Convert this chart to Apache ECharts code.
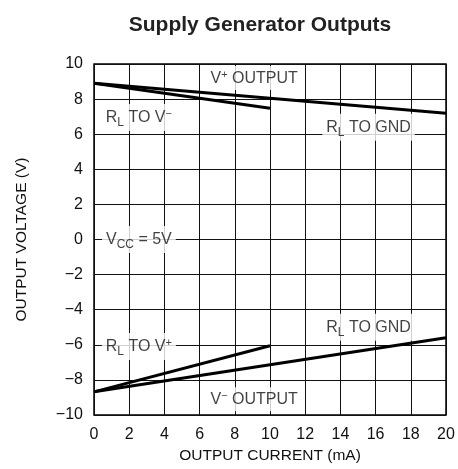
<!DOCTYPE html>
<html>
<head>
<meta charset="utf-8">
<script src="https://cdn.jsdelivr.net/npm/echarts@6/dist/echarts.min.js"></script>
<style>
  html, body { margin: 0; padding: 0; background: #fff; }
  #main { width: 458px; height: 469px; }
</style>
</head>
<body>
<div id="main"></div>
<script>
// output current (mA)
var current = [0, 10, 20];
// V+ output
var vPlusToGnd = [[0, 8.9], [20, 7.2]];
var vPlusToVMinus = [[0, 8.9], [10, 7.48]];
// V- output
var vMinusToGnd = [[0, -8.68], [20, -5.6]];
var vMinusToVPlus = [[0, -8.68], [10, -6.05]];
// tick labels
var xTicks = [0, 2, 4, 6, 8, 10, 12, 14, 16, 18, 20];
var yTicks = [-10, -8, -6, -4, -2, 0, 2, 4, 6, 8, 10];

// annotation texts and where they sit (data coords)
var noteText = [
  'V{sup|+} OUTPUT',
  'R{sub|L} TO V{sup|−}',
  'R{sub|L} TO GND',
  'V{sub|CC} = 5V',
  'R{sub|L} TO V{sup|+}',
  'R{sub|L} TO GND',
  'V{sup|−} OUTPUT'
];
var notePos = [[9.1, 9.2], [2.55, 6.95], [15.6, 6.4], [2.55, 0], [2.55, -6.1], [15.6, -5.0], [9.1, -9.1]];

var font = '"Liberation Sans Narrow", "Liberation Sans", Arial, sans-serif';

var chart = echarts.init(document.getElementById('main'));

var lineStyle = { color: '#000', width: 3 };

var option = {
  animation: false,
  title: {
    text: 'Supply Generator Outputs',
    left: 255,
    top: 10,
    textAlign: 'center',
    textStyle: { fontFamily: font, fontWeight: 'bold', fontSize: 21, color: '#222' }
  },
  grid: {
    left: 94, right: 12, top: 64, bottom: 54,
    show: true, borderColor: '#000', borderWidth: 1.5, backgroundColor: 'transparent'
  },
  xAxis: {
    type: 'value', min: 0, max: 20, interval: 2,
    name: 'OUTPUT CURRENT (mA)', nameLocation: 'middle', nameGap: 31,
    nameTextStyle: { fontFamily: font, fontSize: 15.5, color: '#111' },
    axisLine: { show: false },
    axisTick: { show: false },
    axisLabel: { fontFamily: font, fontSize: 16, color: '#111', margin: 12 },
    splitLine: { show: true, lineStyle: { color: '#111', width: 1 } }
  },
  yAxis: {
    type: 'value', min: -10, max: 10, interval: 2,
    name: 'OUTPUT VOLTAGE (V)', nameLocation: 'middle', nameGap: 64,
    nameTextStyle: { fontFamily: font, fontSize: 15.5, color: '#111' },
    axisLine: { show: false },
    axisTick: { show: false },
    axisLabel: {
      fontFamily: font, fontSize: 16, color: '#111', margin: 11,
      formatter: function (v) { return v < 0 ? '−' + (-v) : String(v); }
    },
    splitLine: { show: true, lineStyle: { color: '#111', width: 1 } }
  },
  series: [
    { type: 'line', data: vPlusToGnd, symbol: 'none', lineStyle: lineStyle, z: 3 },
    { type: 'line', data: vPlusToVMinus, symbol: 'none', lineStyle: lineStyle, z: 3 },
    { type: 'line', data: vMinusToGnd, symbol: 'none', lineStyle: lineStyle, z: 3 },
    { type: 'line', data: vMinusToVPlus, symbol: 'none', lineStyle: lineStyle, z: 3 },
    {
      type: 'scatter', symbolSize: 0, z: 2,
      data: notePos.map(function (p, i) {
        return { value: p, label: { formatter: noteText[i] } };
      }),
      label: {
        show: true, position: 'inside',
        fontFamily: font, fontSize: 16, color: '#111',
        backgroundColor: '#fff', padding: [3, 4, 2, 4],
        rich: {
          sub: { fontFamily: font, fontSize: 12, color: '#111', padding: [10, 0, 0, 0] },
          sup: { fontFamily: font, fontSize: 11, color: '#111', padding: [0, 0, 8, 0] }
        }
      }
    }
  ]
};

chart.setOption(option);
</script>
</body>
</html>
